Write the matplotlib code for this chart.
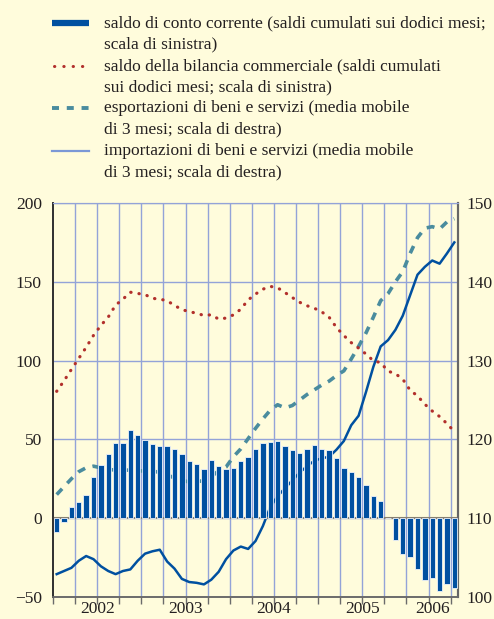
import numpy as np
import matplotlib
matplotlib.use('Agg')
import matplotlib.pyplot as plt
from matplotlib.lines import Line2D

# monthly data, Jan 2002 - Jul 2006
months = np.arange(55)

# saldo di conto corrente (left scale)
conto = [-9, -2.5, 7, 10, 15, 26, 34, 41, 48, 47.5, 56, 52.5, 49.5, 47, 46,
         45.5, 44, 40.5, 36, 34.5, 31, 37, 33, 31, 32, 36, 39,
         44, 47.5, 48.5, 49, 46, 43, 41.5, 44, 46.5, 44, 43, 38, 32, 29, 26,
         21, 14, 11, 0, -14, -22.5, -24.5, -32, -39, -38, -46, -42, -44.5]

# saldo della bilancia commerciale (left scale)
bilancia = [80.5, 87.2, 94.4, 101.4, 108.4, 116, 122.3, 127.6, 135.2, 139,
            143.4, 142.6, 141.9, 139.5, 139, 138, 135, 132.4, 131, 130.1,
            128.6, 129.1, 126.3, 127, 129, 132.6, 138.5, 142.2, 145.3, 147.1,
            146.2, 143.2, 140, 137, 134.8, 133.2, 130.9, 127.5, 121, 115.9,
            111.4, 107.9, 104.2, 99.9, 98.7, 93.3, 91.7, 88.2, 81.2, 77.6,
            72.3, 68, 64.5, 60, 55]

# esportazioni (right scale)
esport = [113.0, 114.0, 115.0, 115.9, 116.4, 116.6, 116.4, 116.2, 116.1, 116.1,
          116.1, 116.0, 116.0, 116.0, 115.8, 115.5, 115.1, 114.8, 114.6, 114.6,
          114.8, 115.3, 116.0, 116.5, 117.8, 118.8, 120.1, 121.4, 122.6, 123.7,
          124.4, 124.0, 124.3, 125.0, 125.7, 126.3, 126.9, 127.4, 128.1, 128.7,
          130.2, 131.8, 133.5, 135.5, 137.6, 138.5, 140.0, 141.3, 143.6, 145.6,
          146.8, 147.0, 146.7, 147.6, 148.0]

# importazioni (right scale)
imports = [102.9, 103.3, 103.7, 104.6, 105.2, 104.8, 103.9, 103.3, 102.9, 103.3,
           103.5, 104.6, 105.5, 105.8, 106.0, 104.5, 103.6, 102.3, 101.9, 101.8,
           101.6, 102.2, 103.2, 104.8, 105.9, 106.4, 106.1, 107.1, 109.0, 111.4,
           112.8, 113.8, 114.8, 115.8, 116.6, 117.3, 117.6, 117.8, 118.7, 119.8,
           121.8, 123.0, 126.0, 129.2, 131.8, 132.6, 133.9, 135.7, 138.3, 140.9,
           141.9, 142.7, 142.3, 143.6, 145.0]

years = ['2002', '2003', '2004', '2005', '2006']
year_pos = [5.5, 17.5, 29.5, 41.5, 51.0]

legend_labels = [
    ['saldo di conto corrente (saldi cumulati sui dodici mesi;',
     'scala di sinistra)'],
    ['saldo della bilancia commerciale (saldi cumulati',
     'sui dodici mesi; scala di sinistra)'],
    ['esportazioni di beni e servizi (media mobile',
     'di 3 mesi; scala di destra)'],
    ['importazioni di beni e servizi (media mobile',
     'di 3 mesi; scala di destra)'],
]

bg = '#fffcdc'
grid_c = '#93a3d8'
blue = '#0050a0'
red = '#b2302c'
teal = '#4a8c9e'
txt = '#231f20'

plt.rcParams['font.family'] = ['Liberation Serif', 'DejaVu Serif']
plt.rcParams['text.color'] = txt

fig = plt.figure(figsize=(4.94, 6.19), dpi=100)
fig.patch.set_facecolor(bg)

W, H = 494, 619
left, right, top, bottom = 53, 458, 203, 597
ax = fig.add_axes([left / W, 1 - bottom / H, (right - left) / W, (bottom - top) / H])
ax2 = ax.twinx()

# right-scale axis goes underneath so the bars cover its lines
ax.set_zorder(ax2.get_zorder() + 1)
ax.patch.set_visible(False)
ax2.patch.set_visible(True)
ax2.patch.set_facecolor(bg)

ax.set_xlim(-0.5, 54.5)
ax.set_ylim(-50, 200)
ax2.set_ylim(100, 150)

# grid
ax2.set_yticks([100, 110, 120, 130, 140, 150])
ax2.yaxis.grid(True, color=grid_c, lw=1.0)
ax2.set_axisbelow(True)
for q in np.arange(2.5, 54.5, 3):
    ax2.axvline(q, color=grid_c, lw=1.0, zorder=0.5)

# right-scale lines
ax2.plot(months, imports, color=blue, lw=1.8, zorder=2)
ax2.plot(months, esport, color=teal, lw=2.6, dashes=(2.2, 2.1), zorder=2)

# left-scale marks
ax.axhline(0, color='#878070', lw=1.5, zorder=1)
ax.bar(months, conto, width=0.72, color=blue, edgecolor='#eef2fa', linewidth=0.6, zorder=3)
ax.plot(months, bilancia, color=red, lw=2.3, dashes=(0.1, 2.5),
        dash_capstyle='round', zorder=4)

# axes styling
ax.set_yticks([-50, 0, 50, 100, 150, 200])
ax.tick_params(axis='y', length=0, pad=8, labelsize=12.5, colors=txt)
ax2.tick_params(axis='y', length=0, pad=6, labelsize=12.5, colors=txt)

ax.xaxis.remove_overlapping_locs = False
ax.set_xticks(np.arange(-0.5, 54.5, 3))
ax.set_xticklabels([])
ax.tick_params(axis='x', which='major', direction='out', length=5, width=1.0, color='#6b6b6b')
ax.set_xticks(year_pos, minor=True)
ax.set_xticklabels(years, minor=True)
ax.tick_params(axis='x', which='minor', length=0, pad=3, labelsize=12.5, colors=txt)

for a in (ax, ax2):
    a.spines['top'].set_color(grid_c)
    a.spines['left'].set_color('#333333')
    a.spines['left'].set_linewidth(1.3)
    a.spines['right'].set_color('#666666')
    a.spines['right'].set_linewidth(1.5)
    a.spines['bottom'].set_color('#6b6b6b')
    a.spines['bottom'].set_linewidth(1.2)

# legend drawn by hand at the top
def fy(py):
    return 1 - py / H

hx0, hx1, tx = 52 / W, 89 / W, 104 / W
rows = [23, 66, 108, 151]
for (l1, l2), py in zip(legend_labels, rows):
    fig.text(tx, fy(py), l1, fontsize=12.5, va='center', ha='left')
    fig.text(tx, fy(py + 21), l2, fontsize=12.5, va='center', ha='left')

fig.add_artist(Line2D([hx0, hx1], [fy(23), fy(23)], transform=fig.transFigure,
                      color=blue, lw=4.5, solid_capstyle='butt'))
fig.add_artist(Line2D([53.5 / W, hx1], [fy(66), fy(66)], transform=fig.transFigure,
                      color=red, lw=2.2, dashes=(0.1, 2.95), dash_capstyle='round'))
fig.add_artist(Line2D([hx0, hx1], [fy(108), fy(108)], transform=fig.transFigure,
                      color=teal, lw=2.8, dashes=(1.8, 2.0)))
fig.add_artist(Line2D([hx0, hx1], [fy(151), fy(151)], transform=fig.transFigure,
                      color='#7b98d6', lw=1.6))

fig.savefig('out.png', dpi=100, facecolor=bg)
